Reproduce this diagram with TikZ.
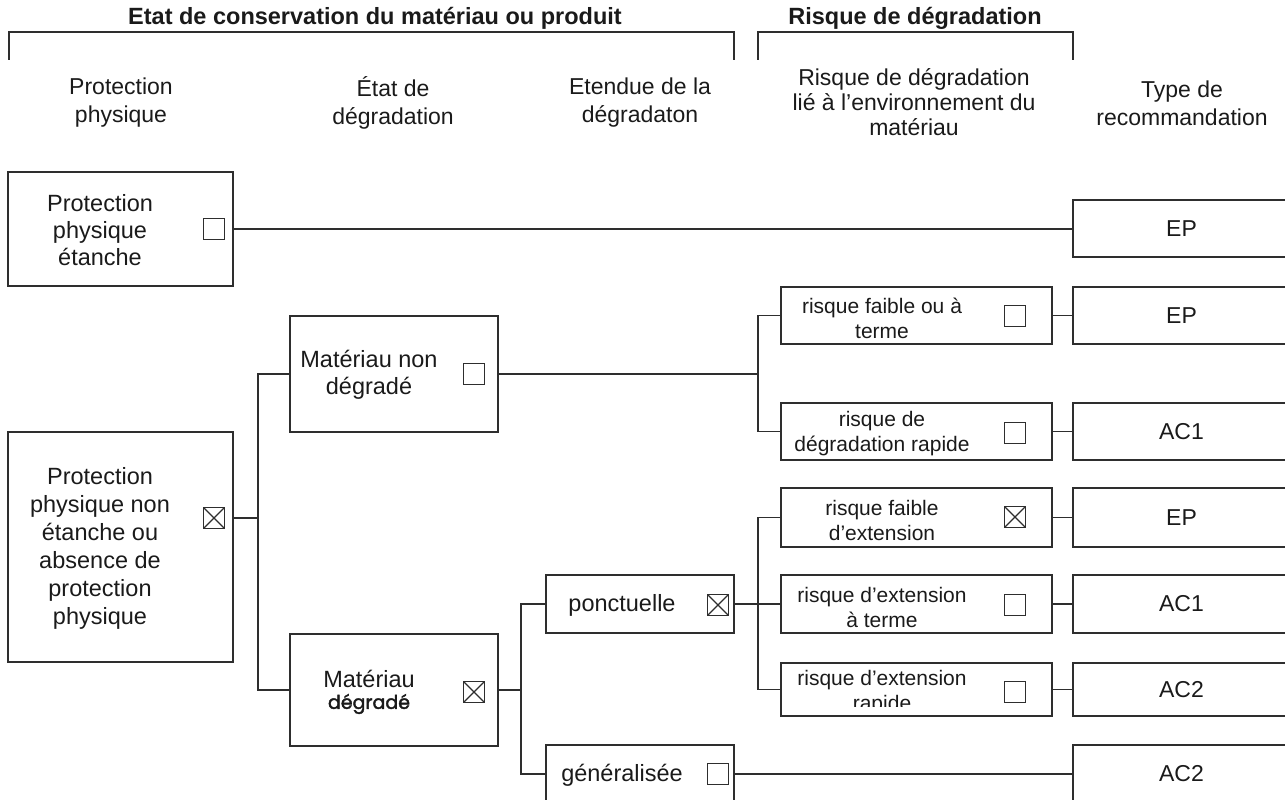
\documentclass[tikz,border=0pt]{standalone}
\usepackage{fontspec}
\setmainfont{Liberation Sans}
\newfontfamily\geofont[FakeBold=2]{Poppins}
\definecolor{linec}{HTML}{2E2E2E}
\definecolor{textc}{HTML}{1A1A1A}
\tikzset{
  ln/.style={draw=linec, line width=1.5pt},
  box/.style={draw=linec, line width=1.5pt, rectangle, inner sep=0pt, fill=none},
  cbox/.style={draw=linec, line width=1.6pt, rectangle, minimum size=21pt, inner sep=0pt},
  cboxx/.style={cbox, path picture={\draw[linec, line width=1.1pt]
      (path picture bounding box.north west) -- (path picture bounding box.south east)
      (path picture bounding box.south west) -- (path picture bounding box.north east);}},
  ttl/.style={text=textc, inner sep=0pt, font=\fontsize{23.5}{28}\selectfont\bfseries},
  hdr/.style={text=textc, align=center, inner sep=0pt, font=\fontsize{23}{28}\selectfont},
  hdrr/.style={text=textc, align=center, inner sep=0pt, font=\fontsize{23}{25}\selectfont},
  btxt/.style={text=textc, align=center, inner sep=0pt, font=\fontsize{23.5}{27}\selectfont},
  btxtb/.style={text=textc, align=center, inner sep=0pt, font=\fontsize{23.5}{28}\selectfont},
  stxt/.style={text=textc, align=center, inner sep=0pt, font=\fontsize{21}{25}\selectfont},
  rtxt/.style={text=textc, align=center, inner sep=0pt, font=\fontsize{23}{27}\selectfont},
  lbox/.style={box, minimum width=225pt},
  mbox/.style={box, minimum width=208pt},
  pbox/.style={box, minimum width=188pt, minimum height=58pt},
  ebox/.style={box, minimum width=271pt},
  rbox/.style={box, minimum width=217pt}
}
\begin{document}
\begin{tikzpicture}[x=1pt,y=-1pt]
\useasboundingbox (0,0) rectangle (1285,800);
\clip (0,0) rectangle (1285,800);

% titles and brackets
\node[ttl] (t1) at (375,18) {Etat de conservation du matériau ou produit};
\node[ttl] (t2) at (915,18) {Risque de dégradation};
\draw[ln] (9,60) -- (9,32) -- (734,32) -- (734,60);
\draw[ln] (758,60) -- (758,32) -- (1073,32) -- (1073,60);

% column headers
\node[hdr] (h1) at (121,103) {Protection\\physique};
\node[hdr] (h2) at (393,103) {État de\\dégradation};
\node[hdr] (h3) at (640,103) {Etendue de la\\dégradaton};
\node[hdrr] (h4) at (914,102) {Risque de dégradation\\lié à l’environnement du\\matériau};
\node[hdr] (h5) at (1182,103) {Type de\\recommandation};

% column 1
\node[lbox, minimum height=114pt] (A) at (120.5,229) {};
\node[btxt] (At) at (100,230) {Protection\\physique\\étanche};
\node[cbox] (cbA) at (214,229) {};

\node[lbox, minimum height=230pt] (B) at (120.5,547) {};
\node[btxtb] (Bt) at (100,548) {Protection\\physique non\\étanche ou\\absence de\\protection\\physique};
\node[cboxx] (cbB) at (214,518) {};

% column 2
\node[mbox, minimum height=116pt] (C) at (394,374) {};
\node[btxt] (Ct) at (369,375) {Matériau non\\dégradé};
\node[cbox] (cbC) at (474,374) {};

\node[mbox, minimum height=112pt] (D) at (394,690) {};
\node[btxt] (Dt1) at (369,679) {Matériau};
\node[text=textc, inner sep=0pt, font=\geofont\fontsize{19}{20}\selectfont] (Dt2) at (369,704) {dégradé};
\node[cboxx] (cbD) at (474,692) {};

% column 3
\node[pbox] (P) at (640,604) {};
\node[btxt] (Pt) at (622,605) {ponctuelle};
\node[cboxx] (cbP) at (718,605) {};

\node[pbox] (Gn) at (640,774) {};
\node[btxt] (Gnt) at (622,775) {généralisée};
\node[cbox] (cbG) at (718,774) {};

% column 4
\node[ebox, minimum height=57pt] (E1) at (916.5,315.5) {};
\node[stxt] (E1t) at (882,318) {risque faible ou à\\terme};
\node[cbox] (cbE1) at (1015,316) {};

\node[ebox, minimum height=57pt] (E2) at (916.5,431.5) {};
\node[stxt] (E2t) at (882,434) {risque de\\dégradation rapide};
\node[cbox] (cbE2) at (1015,433) {};

\node[ebox, minimum height=59pt] (G1) at (916.5,517.5) {};
\node[stxt] (G1t) at (882,520) {risque faible\\d’extension};
\node[cboxx] (cbG1) at (1015,517) {};

\node[ebox, minimum height=58pt] (G2) at (916.5,604) {};
\node[stxt] (G2t) at (882,607) {risque d’extension\\à terme};
\node[cbox] (cbG2) at (1015,605) {};

\node[ebox, minimum height=53pt] (G3) at (916.5,689.5) {};
\begin{scope}
  \clip (782,664) rectangle (1000,706);
  \node[stxt, anchor=north] (G3t) at (882,670) {risque d’extension\\rapide};
\end{scope}
\node[cbox] (cbG3) at (1015,692) {};

% column 5
\node[rbox, minimum height=57pt] (R1) at (1181.5,228.5) {};
\node[rtxt] at (R1.center) {EP};
\node[rbox, minimum height=57pt] (R2) at (1181.5,315.5) {};
\node[rtxt] at (R2.center) {EP};
\node[rbox, minimum height=57pt] (R3) at (1181.5,431.5) {};
\node[rtxt] at (R3.center) {AC1};
\node[rbox, minimum height=59pt] (R4) at (1181.5,517.5) {};
\node[rtxt] at (R4.center) {EP};
\node[rbox, minimum height=58pt] (R5) at (1181.5,604) {};
\node[rtxt] at (R5.center) {AC1};
\node[rbox, minimum height=53pt] (R6) at (1181.5,689.5) {};
\node[rtxt] at (R6.center) {AC2};
\node[rbox, minimum height=57pt] (R7) at (1181.5,773.5) {};
\node[rtxt] at (R7.center) {AC2};

% junctions
\coordinate (jB) at (258,518);
\coordinate (jC) at (758,374);
\coordinate (jD) at (521,690);
\coordinate (jP) at (758,604);

% connectors
\draw[ln] (A.east |- cbA) -- (R1.west |- cbA);
\draw[ln] (B.east |- cbB) -- (jB);
\draw[ln] (C.west) -| (jB) |- (D.west);
\draw[ln] (C.east |- cbC) -- (jC);
\draw[ln] (E1.west) -| (jC) |- (E2.west);
\draw[ln] (E1.east) -- (R2.west);
\draw[ln] (E2.east) -- (R3.west);
\draw[ln] (D.east) -- (jD);
\draw[ln] (P.west) -| (jD) |- (Gn.west);
\draw[ln] (P.east) -- (G2.west);
\draw[ln] (G1.west) -| (jP) |- (G3.west);
\draw[ln] (G1.east) -- (R4.west);
\draw[ln] (G2.east) -- (R5.west);
\draw[ln] (G3.east) -- (R6.west);
\draw[ln] (Gn.east |- cbG) -- (R7.west |- cbG);
\end{tikzpicture}
\end{document}
